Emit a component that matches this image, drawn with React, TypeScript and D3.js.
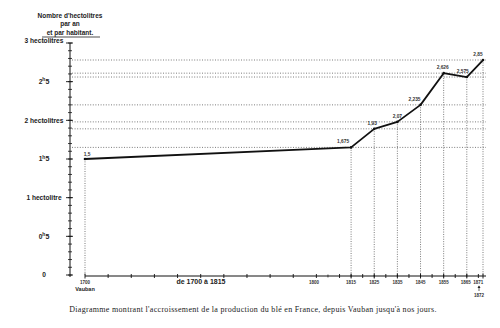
import React from "react";
import * as d3 from "d3";

const years = [1700, 1815, 1825, 1835, 1845, 1855, 1865, 1872];
const values = [1.5, 1.65, 1.89, 1.98, 2.2, 2.61, 2.56, 2.78];
const valueLabels = ["1,5", "1,675", "1,93", "2,07", "2,235", "2,626", "2,575", "2,85"];
const yTickValues = [0, 0.5, 1, 1.5, 2, 2.5, 3];
const yTickLabels = ["0", "0h5", "1 hectolitre", "1h5", "2 hectolitres", "2h5", "3 hectolitres"];
const xYearLabels = ["1800", "1815", "1825", "1835", "1845", "1855", "1865", "1871"];
const xYearLabelYears = [1799, 1815, 1825, 1835, 1845, 1855, 1864.5, 1870];

const W = 500;
const H = 328;

export default function App() {
  const x = d3.scaleLinear().domain([1700, 1872]).range([85, 483]);
  const y = d3.scaleLinear().domain([0, 3]).range([275, 43]);
  const axisX = 70;
  const baseY = 276;
  const line = d3
    .line<number>()
    .x((_, i) => x(years[i]))
    .y((v) => y(v));

  const minorY = d3.range(0, 3.001, 0.1);
  const decadeTicks = d3.range(1710, 1871, 10);
  const fiveTicks = d3.range(1805, 1871, 10);

  const font = "'Liberation Sans', Arial, sans-serif";

  const renderYLabel = (lab: string) => {
    const m = lab.match(/^(\d)h5$/);
    if (m) {
      return (
        <>
          {m[1]}
          <tspan fontSize={5} dy={-2.5}>h</tspan>
          <tspan fontSize={7} dy={2.5}>5</tspan>
        </>
      );
    }
    return lab;
  };

  return (
    <svg width={W} height={H} style={{ position: "absolute", left: 0, top: 0, background: "#fff" }}>
      <rect width={W} height={H} fill="#fff" />
      {/* title */}
      <g fontFamily={font} fontSize={6.5} fontWeight="bold" fill="#222" textAnchor="middle">
        <text x={70} y={18}>Nombre d'hectolitres</text>
        <text x={70} y={26}>par an</text>
        <text x={70} y={34.5}>et par habitant.</text>
      </g>
      <line x1={42} x2={100} y1={37} y2={37} stroke="#222" strokeWidth={0.8} />

      {/* horizontal dotted guide lines */}
      {values.slice(1).map((v, i) => (
        <line
          key={"h" + i}
          x1={axisX + 2}
          x2={486}
          y1={y(v)}
          y2={y(v)}
          stroke="#444"
          strokeWidth={0.7}
          strokeDasharray="1,1.6"
        />
      ))}
      {/* vertical dotted guide lines */}
      {years.map((yr, i) => (
        <line
          key={"v" + i}
          x1={x(yr)}
          x2={x(yr)}
          y1={y(values[i])}
          y2={baseY}
          stroke="#444"
          strokeWidth={0.7}
          strokeDasharray="1,1.4"
        />
      ))}

      {/* y axis */}
      <line x1={axisX} x2={axisX} y1={y(3)} y2={baseY + 1} stroke="#111" strokeWidth={1} />
      {minorY.map((v, i) => (
        <line key={"ym" + i} x1={axisX - 2} x2={axisX + 2} y1={y(v)} y2={y(v)} stroke="#111" strokeWidth={0.8} />
      ))}
      {yTickValues.map((v, i) => (
        <line key={"yM" + i} x1={axisX - 4} x2={axisX + 3} y1={y(v)} y2={y(v)} stroke="#111" strokeWidth={0.9} />
      ))}
      <g fontFamily={font} fontSize={6.6} fontWeight="bold" fill="#222" textAnchor="middle">
        {yTickValues.map((v, i) => (
          <text key={"yl" + i} x={44} y={y(v) + (i === 6 ? 0 : 2.2)}>
            {renderYLabel(yTickLabels[i])}
          </text>
        ))}
      </g>

      {/* x axis */}
      <line x1={x(1700)} x2={486} y1={baseY} y2={baseY} stroke="#111" strokeWidth={1} />
      {decadeTicks.map((t) => (
        <line key={"xd" + t} x1={x(t)} x2={x(t)} y1={baseY - 2} y2={baseY + 2} stroke="#111" strokeWidth={0.9} />
      ))}
      {fiveTicks.map((t) => (
        <line key={"xf" + t} x1={x(t)} x2={x(t)} y1={baseY - 1.5} y2={baseY + 1.5} stroke="#111" strokeWidth={0.7} />
      ))}
      {years.map((t) => (
        <line key={"xy" + t} x1={x(t)} x2={x(t)} y1={baseY - 2.5} y2={baseY + 2.5} stroke="#111" strokeWidth={0.9} />
      ))}

      {/* x labels */}
      <g fontFamily={font} fontSize={4.5} fontWeight="bold" fill="#333" textAnchor="middle">
        <text x={x(1700)} y={284}>1700</text>
        {xYearLabels.map((lab, i) => (
          <text key={"xl" + i} x={x(xYearLabelYears[i])} y={284}>{lab}</text>
        ))}
        <text x={x(1872) - 4} y={297}>1872</text>
      </g>
      <text x={x(1700)} y={291} fontFamily={font} fontSize={5.5} fontWeight="bold" fill="#222" textAnchor="middle">
        Vauban
      </text>
      <text x={201} y={284} fontFamily={font} fontSize={7} fontWeight="bold" fill="#222" textAnchor="middle">
        de 1700 à 1815
      </text>
      <line x1={x(1872) - 4} x2={x(1872) - 4} y1={286} y2={291} stroke="#222" strokeWidth={0.7} />
      <path d={`M${x(1872) - 5.5},288 L${x(1872) - 4},285.5 L${x(1872) - 2.5},288 Z`} fill="#222" />

      {/* data line */}
      <path d={line(values) || ""} fill="none" stroke="#111" strokeWidth={1.8} strokeLinejoin="round" />
      {values.map((v, i) => (
        <circle key={"p" + i} cx={x(years[i])} cy={y(v)} r={1.3} fill="#111" />
      ))}

      {/* value labels */}
      <g fontFamily={font} fontSize={4.8} fontWeight="bold" fill="#333" textAnchor="middle">
        {values.map((v, i) => {
          const dx = i === 0 ? 2 : i === 1 ? -8 : i === 2 ? -2 : i === 4 ? -6 : i === 5 ? -1 : i === 6 ? -4 : i === 7 ? -5 : 0;
          const dy = i === 0 ? -3 : -4;
          return (
            <text key={"vl" + i} x={x(years[i]) + dx} y={y(v) + dy}>
              {valueLabels[i]}
            </text>
          );
        })}
      </g>

      {/* caption */}
      <text
        x={253}
        y={312}
        fontFamily="'Liberation Serif', 'Times New Roman', serif"
        fontSize={8}
        letterSpacing={0.3}
        fill="#222"
        textAnchor="middle"
      >
        Diagramme montrant l'accroissement de la production du blé en France, depuis Vauban jusqu'à nos jours.
      </text>
    </svg>
  );
}
